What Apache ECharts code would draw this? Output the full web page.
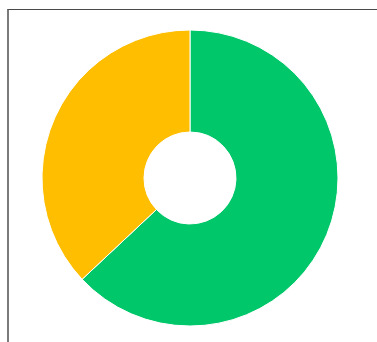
<!DOCTYPE html>
<html>
<head>
<meta charset="utf-8">
<script src="https://cdn.jsdelivr.net/npm/echarts@6/dist/echarts.min.js"></script>
<style>
  html, body { margin: 0; padding: 0; background: #fff; }
  #frame {
    position: absolute; left: 7px; top: 9px; width: 400px; height: 360px;
    border-left: 2px solid #7a7a7a; border-top: 1px solid #4a4a4a;
  }
  #chart { position: absolute; left: 0; top: 0; width: 377px; height: 342px; }
</style>
</head>
<body>
<div id="frame"></div>
<div id="chart"></div>
<script>
// Two-part share: names, values and colours, drawn clockwise from 12 o'clock
const categories = ['Green', 'Yellow'];
const values = [63, 37];
const colors = ['#00C76A', '#FFBE00'];

const chart = echarts.init(document.getElementById('chart'), null, { renderer: 'canvas' });
chart.setOption({
  animation: false,
  series: [{
    type: 'pie',
    center: [190, 178],
    radius: [46, 148],
    startAngle: 90,
    clockwise: true,
    label: { show: false },
    labelLine: { show: false },
    itemStyle: { borderColor: '#ffffff', borderWidth: 1 },
    emphasis: { disabled: true },
    data: categories.map((name, i) => ({
      name: name,
      value: values[i],
      itemStyle: { color: colors[i] }
    }))
  }]
});
</script>
</body>
</html>
